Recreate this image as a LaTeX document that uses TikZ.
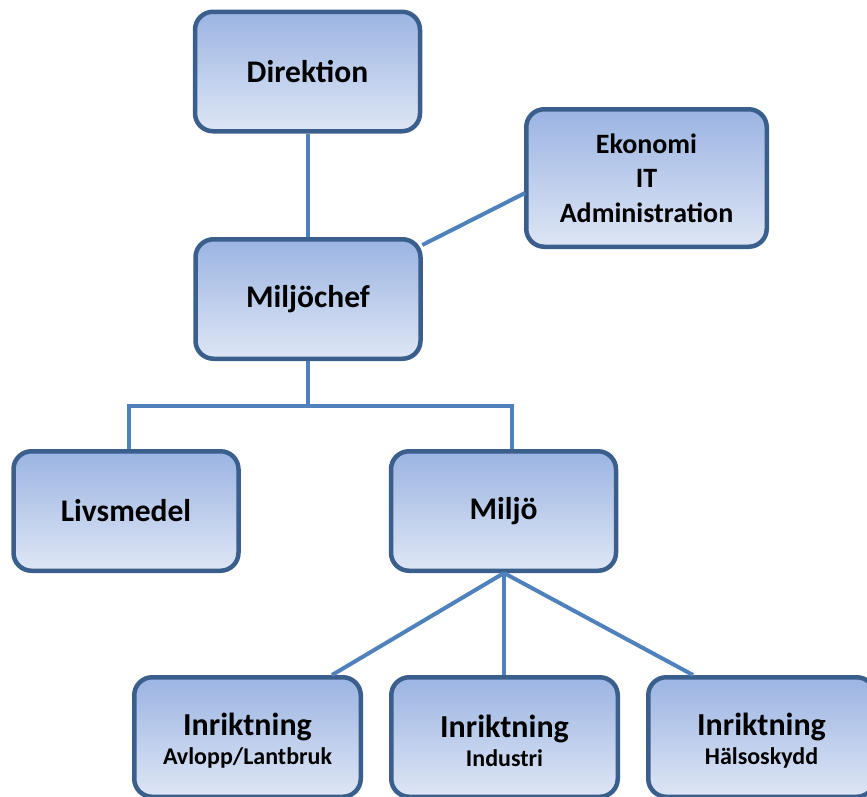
\documentclass[tikz,border=0pt]{standalone}
\usepackage{fontspec}
\setmainfont{Carlito}
\definecolor{boxtop}{RGB}{155,180,226}
\definecolor{boxbot}{RGB}{222,230,245}
\definecolor{boxline}{RGB}{58,95,140}
\definecolor{connc}{RGB}{79,129,189}
\tikzset{
  orgbox/.style={draw=boxline, line width=4.5pt, rounded corners=18pt,
    top color=boxtop, bottom color=boxbot, minimum width=225pt,
    minimum height=119.5pt, inner sep=0pt, align=center,
    font=\bfseries\fontsize{31.5}{37}\selectfont},
  smalltxt/.style={font=\bfseries\fontsize{28}{34.5}\selectfont},
  conn/.style={draw=connc, line width=4pt},
}
\newcommand{\subtxt}[1]{{\fontsize{24}{28}\selectfont #1}}
\newcommand{\inrik}{\rule{0pt}{30pt}{\fontsize{32}{37}\selectfont Inriktning}}
\begin{document}
\begin{tikzpicture}[x=1pt,y=-1pt]
\useasboundingbox (0,0) rectangle (867,796);
\node[orgbox] (dir) at (307.5,71.5) {Direktion};
\node[orgbox, minimum width=240.5pt, minimum height=137.5pt, smalltxt] (eko) at (646.5,178) {Ekonomi\\IT\\Administration};
\node[orgbox] (chef) at (308,299) {Miljöchef};
\node[orgbox] (liv) at (126,511) {Livsmedel};
\node[orgbox] (miljo) at (503.5,511) {Miljö};
\node[orgbox, minimum width=226.5pt] (avl) at (247.5,737) {\inrik\\[-8pt]\subtxt{Avlopp/Lantbruk}};
\node[orgbox, minimum width=226.5pt] (ind) at (504.5,737) {\inrik\\[-8pt]\subtxt{Industri}};
\node[orgbox, minimum width=226.5pt] (hals) at (761.5,737) {\inrik\\[-8pt]\subtxt{Hälsoskydd}};
\coordinate (bus) at (308,406);
\draw[conn] ([xshift=0.5pt]dir.south) -- ([yshift=0pt]chef.north);
\draw[conn] ([xshift=-0.5pt,yshift=-8pt]chef.north east) -- ([xshift=1pt,yshift=-15pt]eko.west);
\draw[conn] (chef.south) -- (bus);
\draw[conn] ([xshift=3pt]liv.north) |- (bus) -| ([xshift=8.5pt]miljo.north);
\draw[conn] ([xshift=0.5pt]miljo.south) -- ([xshift=84.5pt]avl.north);
\draw[conn] ([xshift=0.5pt]miljo.south) -- ([xshift=-0.5pt]ind.north);
\draw[conn] ([xshift=0.5pt]miljo.south) -- ([xshift=-68.5pt]hals.north);
\end{tikzpicture}
\end{document}
